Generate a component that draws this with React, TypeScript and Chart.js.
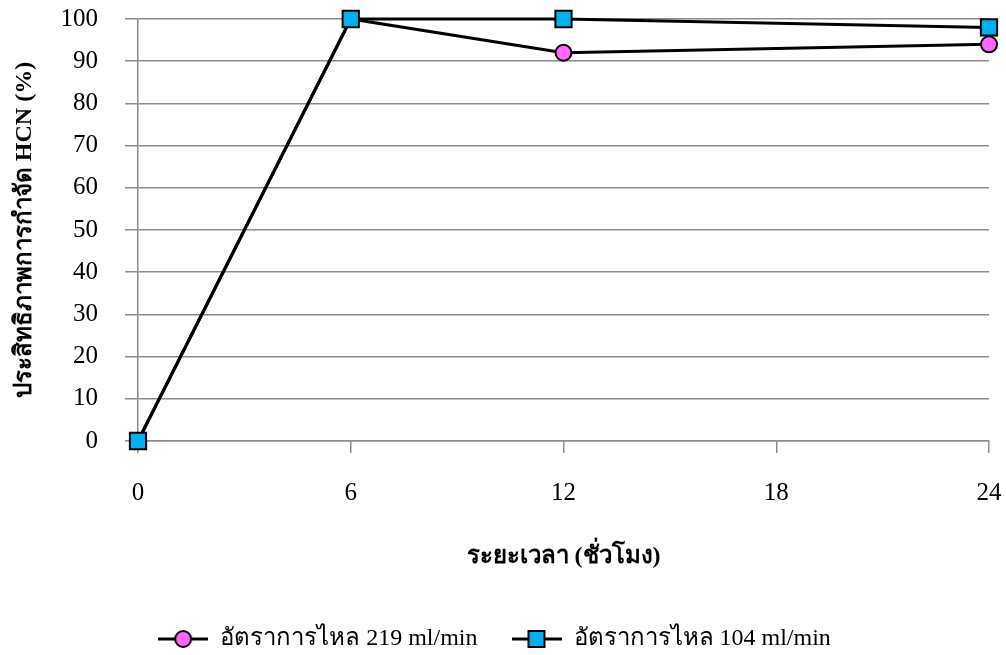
import { useEffect, useRef } from "react";
import { Chart, registerables } from "chart.js";
Chart.register(...registerables);

const hours = [0, 6, 12, 24];
const flow219 = [0, 100, 92, 94];
const flow104 = [0, 100, 100, 98];
const xTickValues = [0, 6, 12, 18, 24];
const seriesLabels = ["อัตราการไหล 219 ml/min", "อัตราการไหล 104 ml/min"];
const xTitle = "ระยะเวลา (ชั่วโมง)";
const yTitle = "ประสิทธิภาพการกำจัด HCN (%)";

const FONT = "'Liberation Serif', 'Times New Roman', serif";
const GRID = "#8c8c8c";
const PINK = "#FF66FF";
const BLUE = "#00B0F0";

function makeMarker(kind: "circle" | "rect", fill: string) {
  const c = document.createElement("canvas");
  c.width = 50;
  c.height = 22;
  const ctx = c.getContext("2d")!;
  ctx.strokeStyle = "#000";
  ctx.lineWidth = 3;
  ctx.beginPath();
  ctx.moveTo(0, 11);
  ctx.lineTo(50, 11);
  ctx.stroke();
  ctx.fillStyle = fill;
  ctx.lineWidth = 2;
  ctx.beginPath();
  if (kind === "circle") {
    ctx.arc(25, 11, 8, 0, Math.PI * 2);
  } else {
    ctx.rect(17, 3, 16, 16);
  }
  ctx.fill();
  ctx.stroke();
  return c;
}

export default function App() {
  const ref = useRef<HTMLCanvasElement>(null);
  useEffect(() => {
    if (!ref.current) return;
    const markers = [makeMarker("circle", PINK), makeMarker("rect", BLUE)];
    const chart = new Chart(ref.current, {
      type: "line",
      data: {
        datasets: [
          {
            label: seriesLabels[0],
            data: hours.map((h, i) => ({ x: h, y: flow219[i] })),
            borderColor: "#000",
            borderWidth: 3,
            pointStyle: "circle",
            pointRadius: 8,
            pointBackgroundColor: PINK,
            pointBorderColor: "#000",
            pointBorderWidth: 2,
            tension: 0,
            clip: false as any,
            order: 1,
          },
          {
            label: seriesLabels[1],
            data: hours.map((h, i) => ({ x: h, y: flow104[i] })),
            borderColor: "#000",
            borderWidth: 3,
            pointStyle: "rect",
            pointRadius: 11.5,
            pointBackgroundColor: BLUE,
            pointBorderColor: "#000",
            pointBorderWidth: 2,
            tension: 0,
            clip: false as any,
            order: 0,
          },
        ],
      },
      options: {
        animation: false,
        responsive: false,
        layout: { autoPadding: false, padding: { left: 0, right: 17, top: 19, bottom: -6 } },
        plugins: {
          tooltip: { enabled: false },
          legend: {
            position: "bottom",
            labels: {
              usePointStyle: true,
              pointStyleWidth: 50,
              padding: 34,
              font: { family: FONT, size: 24 },
              color: "#000",
              generateLabels: () =>
                seriesLabels.map((t, i) => ({
                  text: t,
                  pointStyle: markers[i] as any,
                  fillStyle: "transparent",
                  strokeStyle: "transparent",
                  lineWidth: 0,
                  hidden: false,
                  datasetIndex: i,
                  fontColor: "#000",
                })),
            },
          },
        },
        scales: {
          x: {
            type: "linear",
            min: 0,
            max: 24,
            afterBuildTicks: (s: any) => {
              s.ticks = xTickValues.map((v) => ({ value: v }));
            },
            afterFit: (s: any) => {
              s.height = 152;
              s.paddingLeft = 0;
              s.paddingRight = 0;
            },
            grid: {
              drawOnChartArea: false,
              drawTicks: true,
              tickLength: 12,
              color: GRID,
              lineWidth: 1.5,
            },
            border: { display: true, color: GRID, width: 1.5 },
            ticks: {
              padding: 25,
              color: "#000",
              font: { family: FONT, size: 25 },
              maxRotation: 0,
            },
            title: {
              display: true,
              text: xTitle,
              color: "#000",
              font: { family: FONT, size: 24, weight: "bold" },
              padding: { top: 0, bottom: 22 },
            },
          },
          y: {
            type: "linear",
            min: 0,
            max: 100,
            ticks: {
              stepSize: 10,
              padding: 27,
              color: "#000",
              font: { family: FONT, size: 25 },
            },
            afterFit: (s: any) => {
              s.width = 138;
              s.paddingTop = 0;
              s.paddingBottom = 0;
            },
            grid: {
              tickLength: 13,
              color: GRID,
              lineWidth: 1.5,
            },
            border: { display: true, color: GRID, width: 1.5 },
            title: {
              display: true,
              text: yTitle,
              color: "#000",
              font: { family: FONT, size: 24, weight: "bold" },
              padding: { top: 10, bottom: 0 },
            },
          },
        },
      },
    });
    return () => chart.destroy();
  }, []);
  return (
    <div style={{ position: "fixed", left: 0, top: 0, width: 1006, height: 655, background: "#fff" }}>
      <canvas ref={ref} width={1006} height={655} />
    </div>
  );
}
